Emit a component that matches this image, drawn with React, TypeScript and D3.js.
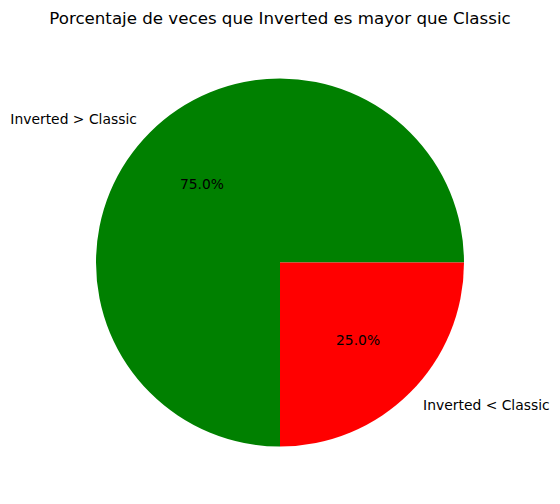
import React from "react";
import * as d3 from "d3";

const labels = ["Inverted > Classic", "Inverted < Classic"];
const values = [75, 25];
const colors = ["#008000", "#ff0000"];
const title = "Porcentaje de veces que Inverted es mayor que Classic";

const W = 560;
const H = 504;
const cx = 280;
const cy = 262.5;
const R = 184;

export default function App() {
  const pie = d3
    .pie<number>()
    .sort(null)
    .startAngle(Math.PI / 2)
    .endAngle(Math.PI / 2 - 2 * Math.PI);
  const arcs = pie(values);
  const arcGen = d3.arc<d3.PieArcDatum<number>>().innerRadius(0).outerRadius(R);
  const total = d3.sum(values);

  return (
    <svg
      width={W}
      height={H}
      style={{ position: "absolute", left: 0, top: 0, background: "#fff" }}
      fontFamily="DejaVu Sans, sans-serif"
    >
      <rect width={W} height={H} fill="#fff" />
      <text x={cx} y={23.5} textAnchor="middle" fontSize={16.67} fill="#000">
        {title}
      </text>
      <g transform={`translate(${cx},${cy})`}>
        {arcs.map((a, i) => (
          <path key={i} d={arcGen(a) || ""} fill={colors[i]} />
        ))}
        {arcs.map((a, i) => {
          const mid = (a.startAngle + a.endAngle) / 2;
          const lx = 1.1 * R * Math.sin(mid);
          const ly = -1.1 * R * Math.cos(mid);
          const px = 0.6 * R * Math.sin(mid);
          const py = -0.6 * R * Math.cos(mid);
          return (
            <g key={"t" + i}>
              <text
                x={lx}
                y={ly}
                dy="0.35em"
                fontSize={13.89}
                textAnchor={lx < 0 ? "end" : "start"}
                fill="#000"
              >
                {labels[i]}
              </text>
              <text x={px} y={py} dy="0.35em" fontSize={13.89} textAnchor="middle" fill="#000">
                {((values[i] / total) * 100).toFixed(1)}%
              </text>
            </g>
          );
        })}
      </g>
    </svg>
  );
}
